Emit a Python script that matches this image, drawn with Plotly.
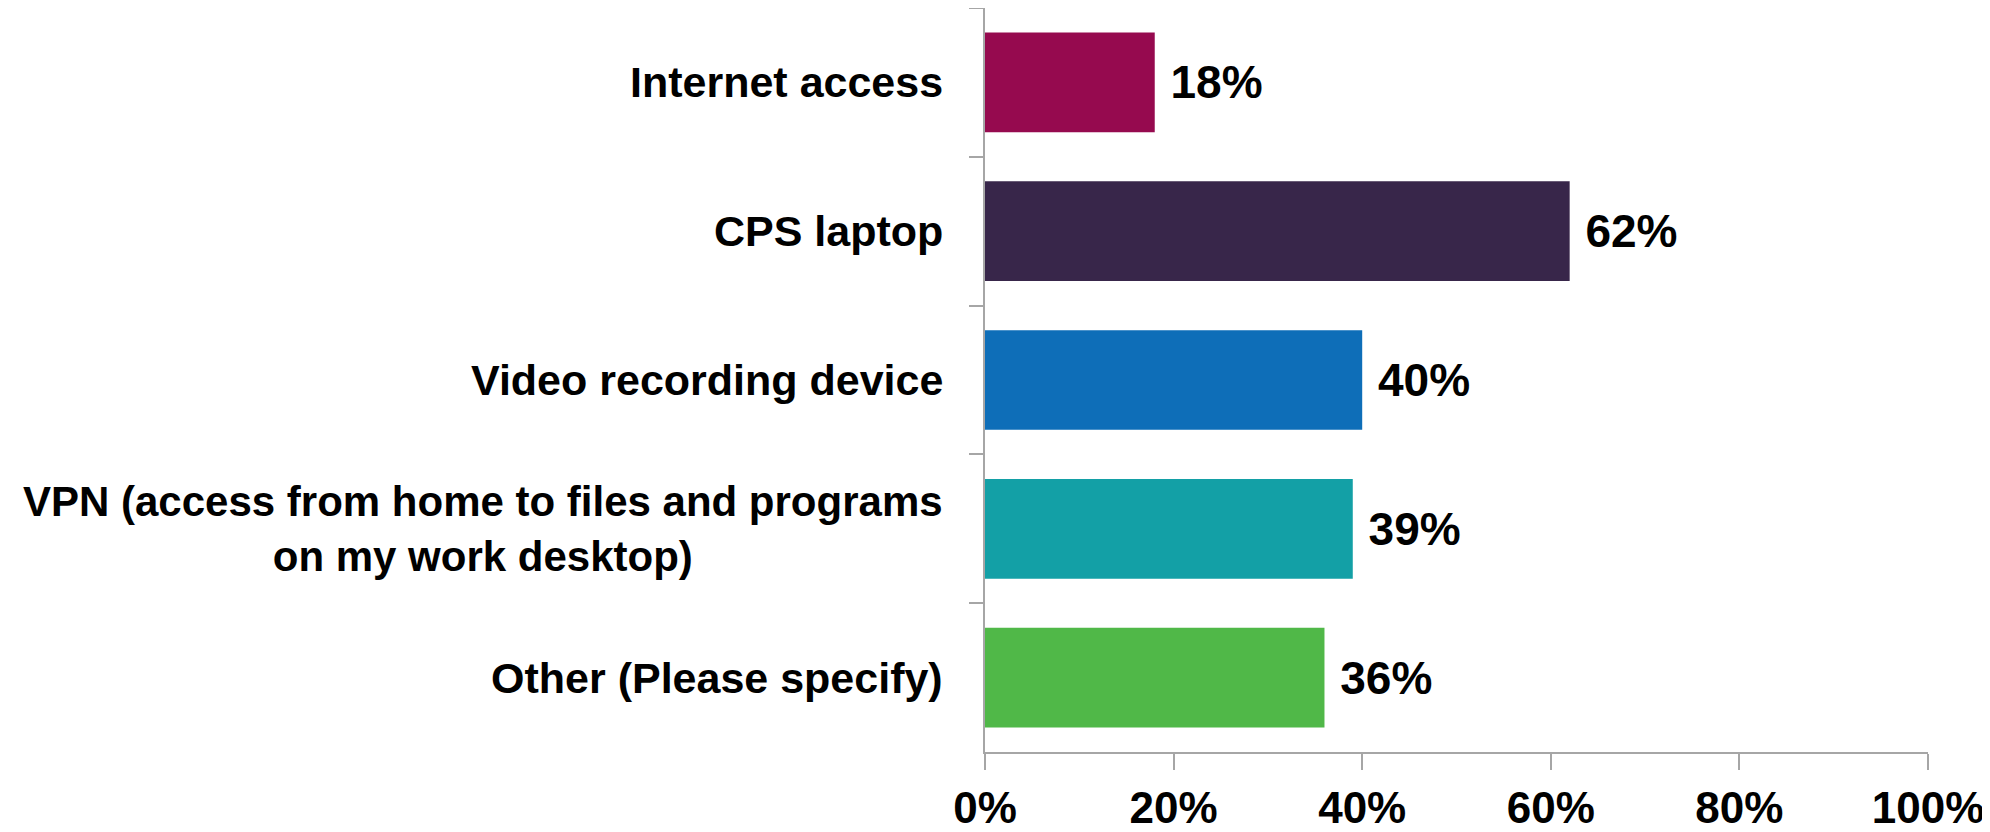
import plotly.graph_objects as go

categories = ["Internet access", "CPS laptop", "Video recording device",
              "VPN (access from home to files and programs<br>on my work desktop)",
              "Other (Please specify)"]
values = [18, 62, 40, 39, 36]
colors = ["#960A4F", "#38264A", "#0E6EB8", "#13A0A6", "#50B848"]
tick_vals = [0, 20, 40, 60, 80, 100]
tick_text = ["0%", "20%", "40%", "60%", "80%", "100%"]

FONT = "Liberation Sans"

fig = go.Figure()
fig.add_trace(go.Bar(
    y=categories, x=values, orientation="h",
    marker=dict(color=colors, line=dict(width=0)),
    text=[f"\u00a0{v}%" for v in values], textposition="outside",
    textfont=dict(family=FONT, size=46, color="black", weight="bold"),
    cliponaxis=False, width=0.67,
))

for c in categories:
    fig.add_annotation(x=0, xref="paper", y=c, yref="y", text=c, showarrow=False,
                       xanchor="right", xshift=-40, align="center",
                       font=dict(family=FONT, size=42 if "<br>" in c else 43,
                                 color="black", weight="bold"))

fig.update_layout(
    width=1982, height=824,
    margin=dict(l=977, r=62, t=0, b=80),
    plot_bgcolor="white", paper_bgcolor="white",
    showlegend=False, uniformtext=dict(mode=False),
)
fig.update_xaxes(range=[0, 100], tickvals=tick_vals, ticktext=tick_text,
                 ticks="outside", ticklen=16, tickwidth=2, tickcolor="#A6A6A6",
                 showline=True, linecolor="#A6A6A6", linewidth=2,
                 showgrid=False, zeroline=False, automargin=False,
                 ticklabelstandoff=0,
                 tickfont=dict(family=FONT, size=44, color="black", weight="bold"))
fig.update_yaxes(autorange="reversed", showticklabels=False, automargin=False,
                 ticks="outside", ticklen=14, tickwidth=2, tickcolor="#A6A6A6",
                 tickson="boundaries",
                 showline=True, linecolor="#A6A6A6", linewidth=2,
                 showgrid=False, zeroline=False)

fig.write_html("out.html")
